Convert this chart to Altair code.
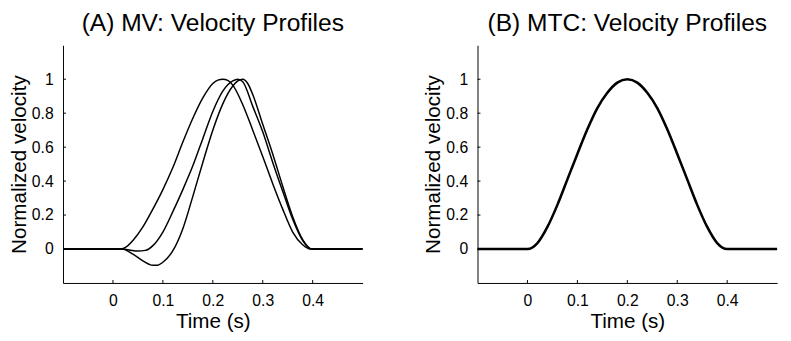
import altair as alt
import pandas as pd

# ---- data ----
XTICKS = [0, 0.1, 0.2, 0.3, 0.4]
YTICKS = [0, 0.2, 0.4, 0.6, 0.8, 1]

# Panel A (MV) - three velocity profiles
t1 = [-0.1, 0.0, 0.015, 0.03, 0.04, 0.06, 0.08, 0.10, 0.12, 0.14, 0.16, 0.18, 0.20, 0.21, 0.22,
      0.23, 0.24, 0.26, 0.28, 0.30, 0.32, 0.34, 0.36, 0.38, 0.395, 0.5]
v1 = [0, 0, 0, 0.02, 0.05, 0.13, 0.235, 0.35, 0.48, 0.63, 0.77, 0.89, 0.975, 0.995, 1.0,
      0.993, 0.965, 0.85, 0.70, 0.545, 0.385, 0.235, 0.10, 0.025, 0, 0]

t2 = [-0.1, 0.0, 0.02, 0.035, 0.05, 0.065, 0.08, 0.10, 0.12, 0.14, 0.16, 0.18, 0.20, 0.22,
      0.24, 0.25, 0.26, 0.28, 0.30, 0.32, 0.34, 0.36, 0.38, 0.398, 0.5]
v2 = [0, 0, 0, -0.007, -0.012, -0.008, 0.02, 0.10, 0.22, 0.35, 0.49, 0.65, 0.81, 0.93,
      0.99, 1.0, 0.985, 0.84, 0.69, 0.51, 0.34, 0.175, 0.05, 0, 0]

t3 = [-0.1, 0.0, 0.018, 0.04, 0.06, 0.08, 0.09, 0.10, 0.12, 0.14, 0.16, 0.18, 0.20, 0.22,
      0.24, 0.25, 0.26, 0.27, 0.28, 0.30, 0.32, 0.34, 0.36, 0.38, 0.398, 0.5]
v3 = [0, 0, 0, -0.03, -0.07, -0.096, -0.095, -0.078, -0.01, 0.12, 0.31, 0.51, 0.70, 0.855,
      0.96, 0.99, 1.0, 0.975, 0.91, 0.735, 0.56, 0.37, 0.19, 0.055, 0, 0]

# Panel B (MTC) - single velocity profile
tb = [-0.1, 0.0, 0.02, 0.04, 0.06, 0.08, 0.10, 0.12, 0.14, 0.16, 0.18, 0.20,
      0.22, 0.24, 0.26, 0.28, 0.30, 0.32, 0.34, 0.36, 0.38, 0.40, 0.5]
vb = [0, 0, 0.035, 0.13, 0.26, 0.41, 0.56, 0.705, 0.83, 0.92, 0.98, 1.0,
      0.98, 0.92, 0.83, 0.705, 0.56, 0.41, 0.26, 0.13, 0.035, 0, 0]

dfA = pd.concat([
    pd.DataFrame({"t": t1, "v": v1, "s": "c1"}),
    pd.DataFrame({"t": t2, "v": v2, "s": "c2"}),
    pd.DataFrame({"t": t3, "v": v3, "s": "c3"}),
])
dfB = pd.DataFrame({"t": tb, "v": vb, "s": "b"})

FONT = "Liberation Sans"
W, H = 305, 242
TICK = 3

xscale = alt.Scale(domain=[-0.1, 0.5], nice=False, zero=False)
yscale = alt.Scale(domain=[-0.2, 1.2], nice=False, zero=False)
xaxis = alt.Axis(values=XTICKS, format="~g", title="Time (s)")
yaxis = alt.Axis(values=YTICKS, format="~g", title="Normalized velocity")


def panel(df, title, sw):
    line = alt.Chart(df).mark_line(color="black", strokeWidth=sw, interpolate="monotone").encode(
        x=alt.X("t:Q", scale=xscale, axis=xaxis),
        y=alt.Y("v:Q", scale=yscale, axis=yaxis),
        detail="s:N",
    )
    xt = alt.Chart(pd.DataFrame({"t": XTICKS})).mark_rule(color="black", strokeWidth=1).encode(
        x=alt.X("t:Q", scale=xscale, axis=xaxis),
        y=alt.value(H), y2=alt.value(H - TICK),
    )
    yt = alt.Chart(pd.DataFrame({"v": YTICKS})).mark_rule(color="black", strokeWidth=1).encode(
        y=alt.Y("v:Q", scale=yscale, axis=yaxis),
        x=alt.value(0), x2=alt.value(TICK),
    )
    return alt.layer(line, xt, yt).properties(
        width=W, height=H,
        title=alt.TitleParams(title, fontSize=25, font=FONT, fontWeight="normal",
                              color="black", anchor="middle", offset=10),
    )


chart = alt.hconcat(
    panel(dfA, "(A) MV: Velocity Profiles", 1.5),
    panel(dfB, "(B) MTC: Velocity Profiles", 2.6),
    spacing=58,
).properties(
    padding={"left": 0, "top": 0, "right": 0, "bottom": 0},
).configure_view(stroke=None).configure_axis(
    grid=False, ticks=False, domainColor="black", domainWidth=1,
    labelFont=FONT, titleFont=FONT, labelFontSize=16, titleFontSize=21,
    titleFontWeight="normal", labelColor="black", titleColor="black",
    labelPadding=10, titlePadding=2,
)

chart.save("out.html", embed_options={"renderer": "svg", "actions": False})
